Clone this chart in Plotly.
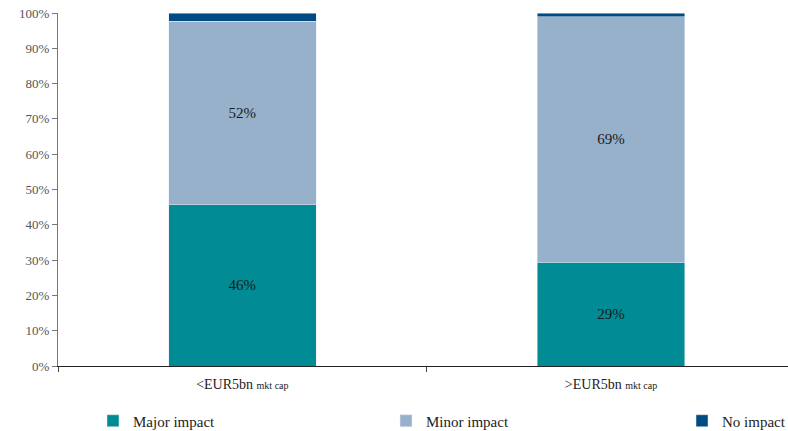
import plotly.graph_objects as go

categories = ["&lt;EUR5bn <span style='font-size:10px'>mkt cap</span>",
              "&gt;EUR5bn <span style='font-size:10px'>mkt cap</span>"]
series_names = ["Major impact", "Minor impact", "No impact"]
major = [45.7, 29.4]
minor = [51.9, 69.6]
no_impact = [2.4, 1.0]
major_labels = ["46%", "29%"]
minor_labels = ["52%", "69%"]
colors = ["#008B95", "#97B1CB", "#004C82"]
ytick_vals = list(range(0, 101, 10))
ytick_text = [f"{v}%" for v in ytick_vals]

FONT = "Liberation Serif"
W, H = 788, 431

fig = go.Figure()
fig.add_bar(x=categories, y=major, name=series_names[0], marker_color=colors[0],
            text=major_labels, textposition="inside", insidetextanchor="middle",
            textfont=dict(color="#1a1a1a", size=15, family=FONT), width=0.40,
            legend="legend")
fig.add_bar(x=categories, y=minor, name=series_names[1], marker_color=colors[1],
            text=minor_labels, textposition="inside", insidetextanchor="middle",
            textfont=dict(color="#1a1a1a", size=15, family=FONT), width=0.40,
            legend="legend2")
fig.add_bar(x=categories, y=no_impact, name=series_names[2], marker_color=colors[2],
            width=0.40, legend="legend3")

def leg(text_px):
    fx = text_px - 40
    return dict(orientation="h", xref="container", yref="container",
                x=fx / W, xanchor="left", y=1 - 421 / H, yanchor="middle",
                font=dict(size=15, family=FONT, color="#222222"),
                itemwidth=30, bgcolor="rgba(0,0,0,0)")

fig.update_layout(
    barmode="stack",
    width=W, height=H,
    margin=dict(l=58, r=0, t=13, b=H - 366, autoexpand=False),
    paper_bgcolor="white", plot_bgcolor="white",
    font=dict(family=FONT, size=14, color="#333333"),
    uniformtext=dict(mode="show", minsize=10),
    legend=leg(133),
    legend2=leg(426),
    legend3=leg(722),
    showlegend=True,
)
fig.update_xaxes(range=[-0.5, 1.48], showline=True, linecolor="#222222", linewidth=1,
                 ticks="outside", tickson="boundaries", ticklen=5, tickcolor="#444444",
                 ticklabelstandoff=5,
                 showgrid=False, automargin=False,
                 tickfont=dict(size=14, family=FONT, color="#222222"))
fig.update_yaxes(range=[0, 100], tickvals=ytick_vals, ticktext=ytick_text,
                 showline=True, linecolor="#777777", linewidth=1,
                 ticks="outside", ticklen=5, tickcolor="#777777",
                 showgrid=False, zeroline=False, automargin=False,
                 tickfont=dict(size=13, family=FONT, color="#555555"))

fig.write_html("out.html", post_script="document.body.style.margin='0';",
               config={"displayModeBar": False})
